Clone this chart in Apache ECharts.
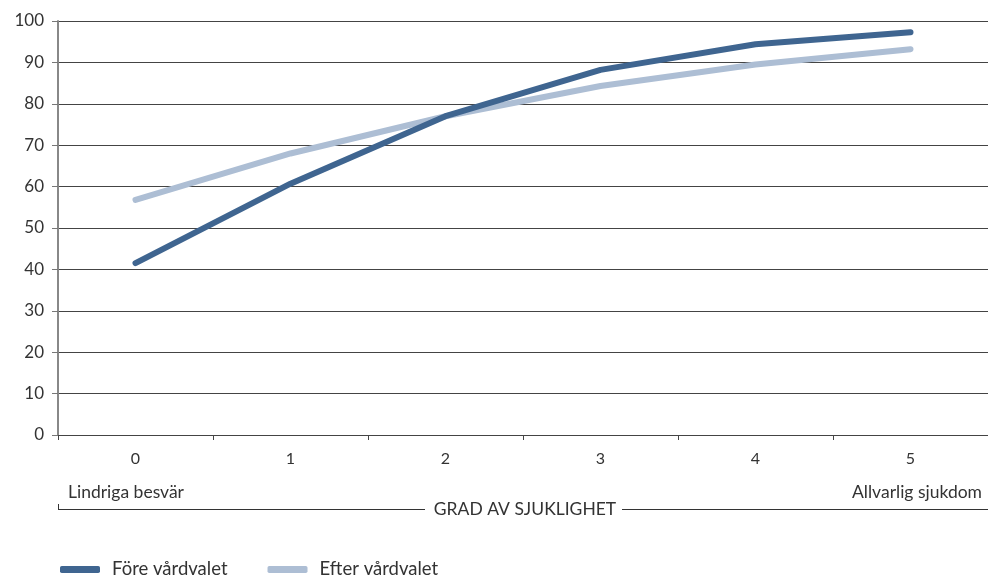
<!DOCTYPE html>
<html><head><meta charset="utf-8">
<script src="https://cdn.jsdelivr.net/npm/echarts@6/dist/echarts.min.js"></script>
<style>html,body{margin:0;padding:0;background:#fff}#c{width:988px;height:576px}</style>
</head><body><div id="c"></div>
<script>
const categories = ['0','1','2','3','4','5'];
const foreValues = [41.5, 60.7, 77, 88.2, 94.4, 97.3];
const efterValues = [56.8, 68, 77, 84.3, 89.5, 93.2];
const seriesNames = ['Före vårdvalet', 'Efter vårdvalet'];
const yTicks = {min: 0, max: 100, interval: 10};

const FONT = 'Lato';
const chart = echarts.init(document.getElementById('c'));
chart.setOption({
  animation: false,
  textStyle: {fontFamily: FONT},
  grid: {left: 58, right: -2, top: 21, bottom: 141, containLabel: false},
  legend: {
    left: 55, top: 555, itemWidth: 40, itemHeight: 7, itemGap: 40,
    icon: 'roundRect',
    textStyle: {fontFamily: FONT, fontSize: 18.5, color: '#333', padding: [0,0,0,7]},
    data: seriesNames
  },
  xAxis: {
    type: 'category', data: categories, boundaryGap: true,
    axisLine: {lineStyle: {color: '#444', width: 1}},
    axisTick: {show: true, alignWithLabel: false, length: 5, lineStyle: {color: '#444'}},
    axisLabel: {fontFamily: FONT, fontSize: 16, color: '#333', margin: 16}
  },
  yAxis: {
    type: 'value', min: yTicks.min, max: yTicks.max, interval: yTicks.interval,
    axisLine: {show: true, lineStyle: {color: '#888', width: 2}},
    axisTick: {show: true, length: 6, lineStyle: {color: '#777'}},
    splitLine: {lineStyle: {color: '#444', width: 1}},
    axisLabel: {fontFamily: FONT, fontSize: 17, color: '#333', margin: 14}
  },
  series: [
    {name: seriesNames[0], type: 'line', data: foreValues, symbol: 'none',
     lineStyle: {width: 6, color: '#3f6590', cap: 'round', join: 'round'}, itemStyle: {color: '#3f6590'}, z: 3},
    {name: seriesNames[1], type: 'line', data: efterValues, symbol: 'none',
     lineStyle: {width: 6, color: '#adbed4', cap: 'round', join: 'round'}, itemStyle: {color: '#adbed4'}, z: 2}
  ],
  graphic: [
    {type: 'text', left: 68, top: 483, style: {text: 'Lindriga besvär', font: '17.5px ' + FONT, fill: '#333'}},
    {type: 'text', right: 6, top: 483, style: {text: 'Allvarlig sjukdom', font: '17.5px ' + FONT, fill: '#333', textAlign: 'right'}},
    {type: 'line', shape: {x1: 58, y1: 509.5, x2: 425, y2: 509.5}, style: {stroke: '#333', lineWidth: 1}},
    {type: 'line', shape: {x1: 58.5, y1: 504, x2: 58.5, y2: 510}, style: {stroke: '#333', lineWidth: 1}},
    {type: 'line', shape: {x1: 622, y1: 509.5, x2: 988, y2: 509.5}, style: {stroke: '#333', lineWidth: 1}},
    {type: 'text', x: 525, y: 509, style: {text: 'GRAD AV SJUKLIGHET', font: '17.5px ' + FONT, fill: '#333', align: 'center', verticalAlign: 'middle'}}
  ]
});
</script></body></html>
